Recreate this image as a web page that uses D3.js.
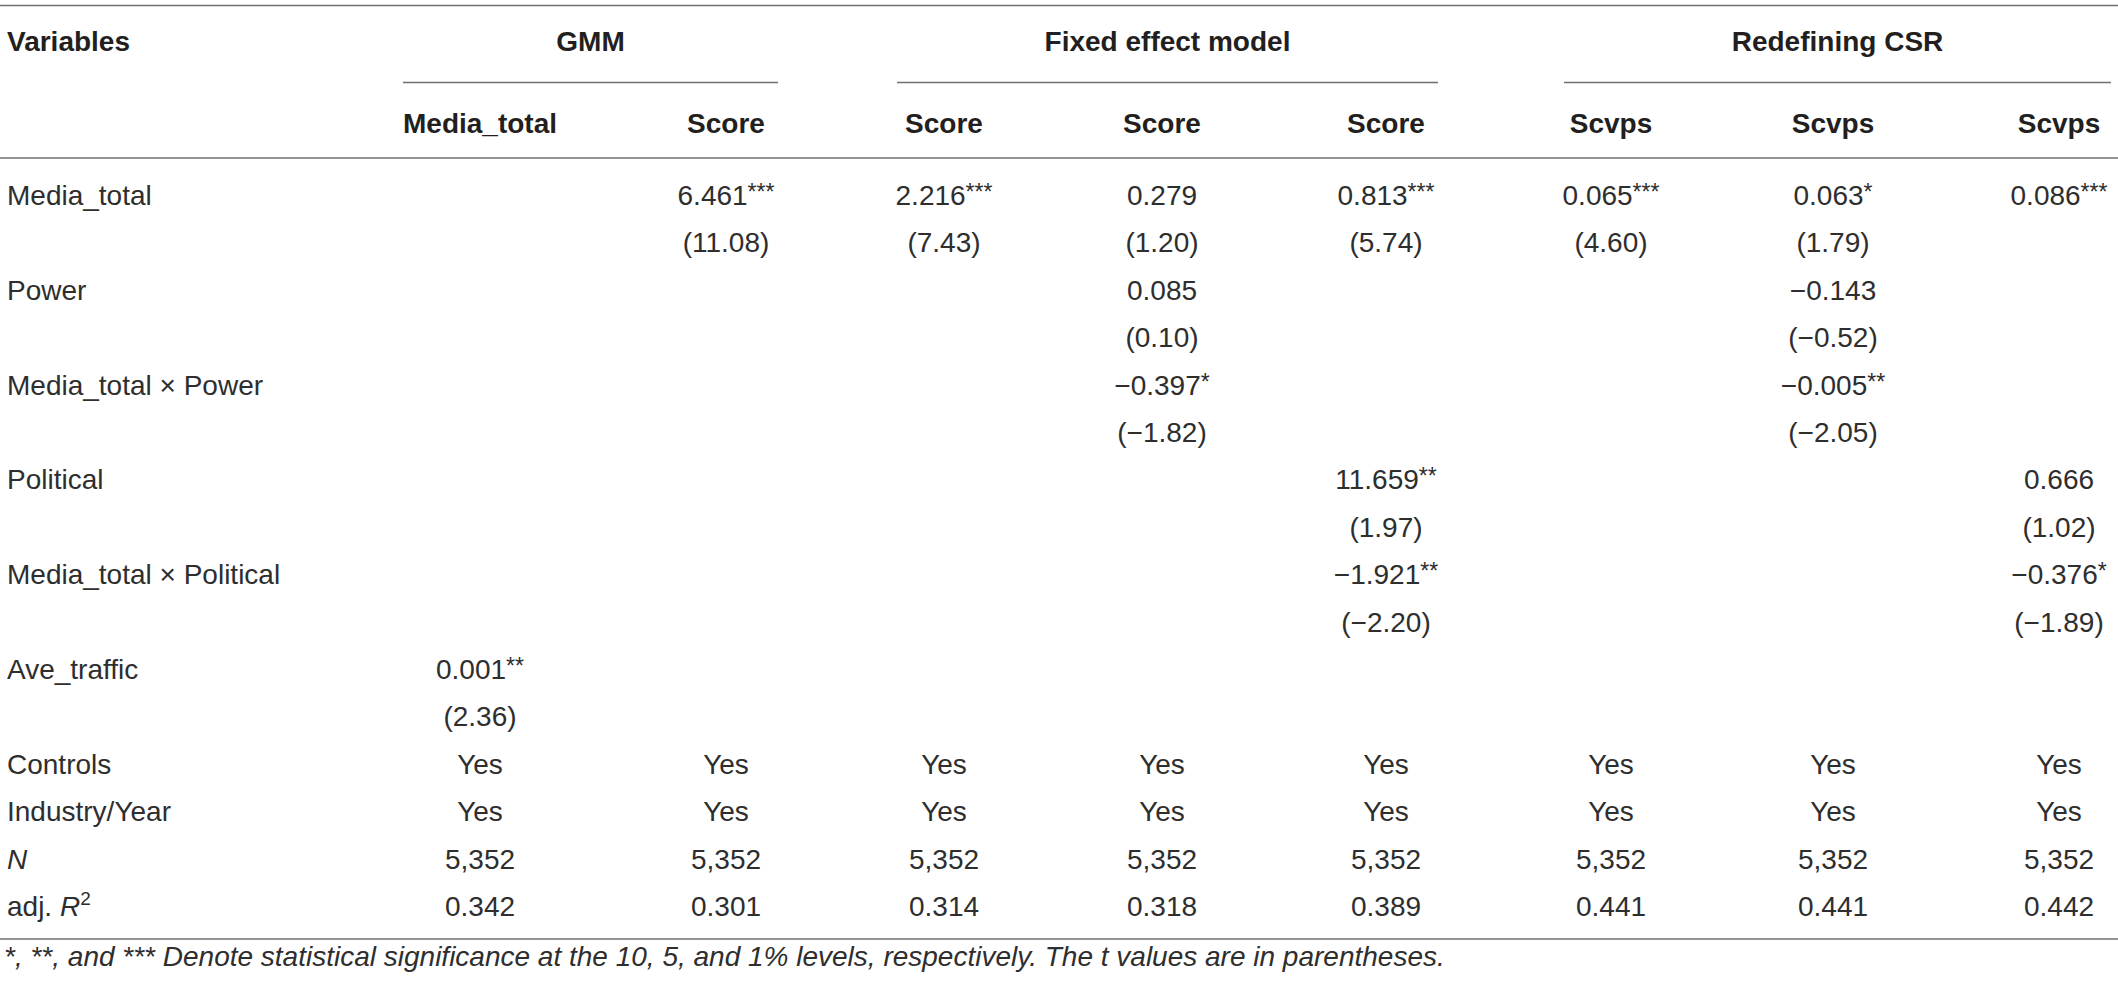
<!DOCTYPE html>
<html>
<head>
<meta charset="utf-8">
<script src="https://cdn.jsdelivr.net/npm/d3@7"></script>
<style>
  body { margin: 0; background: #fff; }
  svg { display: block; font-family: "Liberation Sans", Arial, Helvetica, sans-serif; }
</style>
</head>
<body>
<div id="table"></div>
<script>
// model groups and the columns they span
const groups = ["GMM", "Fixed effect model", "Redefining CSR"];
const groupCols = [[0, 1], [2, 4], [5, 7]];
const depVars = ["Media_total", "Score", "Score", "Score", "Score", "Scvps", "Scvps", "Scvps"];

const rowLabels = [
    "Media_total", "", "Power", "", "Media_total × Power", "", "Political", "",
    "Media_total × Political", "", "Ave_traffic", "", "Controls", "Industry/Year", "N", "adj. R2"
];

// one array per regression column, top to bottom
const gmmMedia = ["", "", "", "", "", "", "", "", "", "", "0.001**", "(2.36)", "Yes", "Yes", "5,352", "0.342"];
const gmmScore = ["6.461***", "(11.08)", "", "", "", "", "", "", "", "", "", "", "Yes", "Yes", "5,352", "0.301"];
const feScore1 = ["2.216***", "(7.43)", "", "", "", "", "", "", "", "", "", "", "Yes", "Yes", "5,352", "0.314"];
const feScore2 = ["0.279", "(1.20)", "0.085", "(0.10)", "−0.397*", "(−1.82)", "", "", "", "", "", "", "Yes", "Yes", "5,352", "0.318"];
const feScore3 = ["0.813***", "(5.74)", "", "", "", "", "11.659**", "(1.97)", "−1.921**", "(−2.20)", "", "", "Yes", "Yes", "5,352", "0.389"];
const csrScvps1 = ["0.065***", "(4.60)", "", "", "", "", "", "", "", "", "", "", "Yes", "Yes", "5,352", "0.441"];
const csrScvps2 = ["0.063*", "(1.79)", "−0.143", "(−0.52)", "−0.005**", "(−2.05)", "", "", "", "", "", "", "Yes", "Yes", "5,352", "0.441"];
const csrScvps3 = ["0.086***", "", "", "", "", "", "0.666", "(1.02)", "−0.376*", "(−1.89)", "", "", "Yes", "Yes", "5,352", "0.442"];

const footnote = "*, **, and *** Denote statistical significance at the 10, 5, and 1% levels, respectively. The t values are in parentheses.";

const columns = [gmmMedia, gmmScore, feScore1, feScore2, feScore3, csrScvps1, csrScvps2, csrScvps3];

const width = 2118, height = 988;
const headColor = "#231f20", bodyColor = "#2e2e2e", ruleColor = "#6f6f6f";

const svg = d3.select("#table").append("svg")
    .attr("width", width)
    .attr("height", height);

// column centres (first data column is wider than the rest)
const x = d3.scaleOrdinal()
    .domain(d3.range(depVars.length))
    .range([480, 726, 944, 1162, 1386, 1611, 1833, 2059]);

// baselines of the body rows
const y = d3.scaleLinear()
    .domain([0, rowLabels.length - 1])
    .range([205, 916]);

function rule(x1, x2, yy) {
    svg.append("line")
        .attr("x1", x1).attr("x2", x2)
        .attr("y1", yy).attr("y2", yy)
        .attr("stroke", ruleColor)
        .attr("stroke-width", 1.6);
}

rule(0, width, 5.5);
rule(0, width, 158);
rule(0, width, 939);

// header row 1
svg.append("text")
    .attr("x", 7).attr("y", 51)
    .attr("font-size", 28).attr("font-weight", "bold")
    .attr("fill", headColor)
    .text("Variables");

groups.forEach((g, i) => {
    const [c0, c1] = groupCols[i];
    const left = x(c0) - (c0 === 0 ? 77 : 47);
    const right = Math.min(x(c1) + 52, width - 6);
    svg.append("text")
        .attr("x", (left + right) / 2).attr("y", 51)
        .attr("text-anchor", "middle")
        .attr("font-size", 28).attr("font-weight", "bold")
        .attr("fill", headColor)
        .text(g);
    rule(left, right, 82.5);
});

// header row 2
svg.selectAll("text.dep")
    .data(depVars)
    .enter().append("text")
    .attr("class", "dep")
    .attr("x", (d, i) => x(i))
    .attr("y", 133)
    .attr("text-anchor", "middle")
    .attr("font-size", 28).attr("font-weight", "bold")
    .attr("fill", headColor)
    .text(d => d);

// row labels
const labels = svg.selectAll("text.rowlab")
    .data(rowLabels)
    .enter().append("text")
    .attr("class", "rowlab")
    .attr("x", 7)
    .attr("y", (d, i) => y(i))
    .attr("font-size", 28)
    .attr("fill", bodyColor);

labels.each(function (d) {
    const t = d3.select(this);
    if (d === "N") {
        t.append("tspan").attr("font-style", "italic").text("N");
    } else if (d === "adj. R2") {
        t.append("tspan").text("adj. ");
        t.append("tspan").attr("font-style", "italic").text("R");
        t.append("tspan").attr("font-size", 19).attr("dy", -11).text("2");
    } else {
        t.text(d);
    }
});

// body cells, stars raised
columns.forEach((col, ci) => {
    const cells = svg.selectAll(null)
        .data(col.map((v, ri) => ({ v, ri })).filter(d => d.v !== ""))
        .enter().append("text")
        .attr("x", x(ci))
        .attr("y", d => y(d.ri))
        .attr("text-anchor", "middle")
        .attr("font-size", 28)
        .attr("fill", bodyColor);

    cells.each(function (d) {
        const m = d.v.match(/^(.*?)(\*+)$/);
        const t = d3.select(this);
        if (m) {
            t.append("tspan").text(m[1]);
            t.append("tspan").attr("font-size", 23).attr("dy", -5).text(m[2]);
        } else {
            t.text(d.v);
        }
    });
});

// footnote
svg.append("text")
    .attr("x", 4).attr("y", 966)
    .attr("font-size", 28)
    .attr("font-style", "italic")
    .attr("fill", bodyColor)
    .text(footnote);
</script>
</body>
</html>
